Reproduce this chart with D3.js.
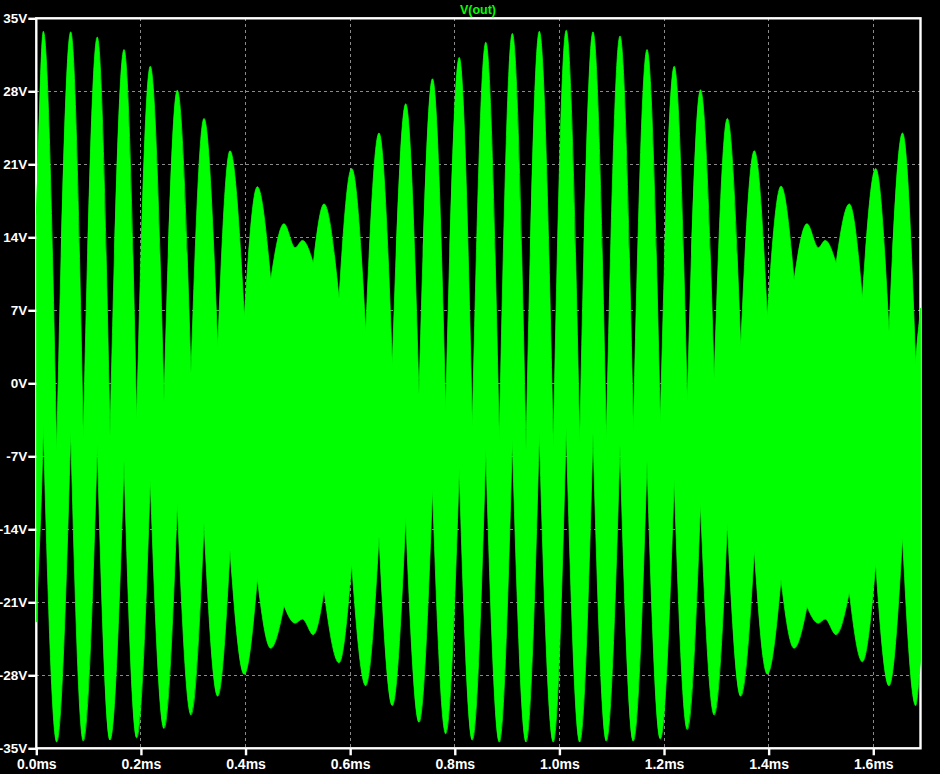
<!DOCTYPE html>
<html>
<head>
<meta charset="utf-8">
<script src="https://cdn.jsdelivr.net/npm/d3@7"></script>
<style>
  html, body { margin: 0; padding: 0; background: #000; }
  svg { display: block; }
</style>
</head>
<body>
<svg id="chart" width="940" height="774"></svg>
<script>
// ---- data ----
const title = "V(out)";
// time (ms) of each envelope turning point (alternating lobe crest / notch)
const times = [0, 0.0134, 0.0390, 0.0658, 0.0898, 0.1166, 0.1409, 0.1677, 0.1919, 0.2179,
  0.2441, 0.2695, 0.2957, 0.3206, 0.3468, 0.3703, 0.3976, 0.4225, 0.4481, 0.4735,
  0.4946, 0.5089, 0.5295, 0.5500, 0.5787, 0.6029, 0.6297, 0.6551, 0.6806, 0.7062,
  0.7316, 0.7574, 0.7826, 0.8085, 0.8335, 0.8593, 0.8851, 0.9100, 0.9362, 0.9616,
  0.9883, 1.0130, 1.0388, 1.0642, 1.0897, 1.1158, 1.1413, 1.1675, 1.1929, 1.2195,
  1.2445, 1.2697, 1.2959, 1.3210, 1.3466, 1.3726, 1.3974, 1.4236, 1.4485, 1.4733,
  1.4949, 1.5081, 1.5288, 1.5542, 1.5791, 1.6047, 1.6301, 1.6559, 1.6811, 1.6903];
// upper edge of the trace (V)
const vHigh = [16.0, 33.75, -6.55, 33.7, -5.3, 33.2, -5.1, 32.0, -3.5, 30.4,
  -1.75, 28.1, 0.96, 25.4, 3.45, 22.3, 6.4, 18.85, 9.9, 15.3,
  13.0, 13.7, 11.5, 17.2, 8.15, 20.6, 4.95, 24.0, 1.75, 26.8,
  -1.1, 29.2, -2.6, 31.25, -4.2, 32.7, -5.5, 33.55, -6.4, 33.75,
  -6.2, 33.85, -5.75, 33.7, -5.3, 33.3, -4.6, 32.0, -3.8, 30.4,
  -1.75, 28.15, 0.4, 25.4, 3.45, 22.3, 6.4, 18.9, 9.9, 15.3,
  13.0, 13.7, 11.5, 17.2, 8.15, 20.6, 4.95, 24.0, 1.75, 7.2];
// lower edge of the trace (V)
const vLow = [-22.9, -4.0, -34.4, -4.6, -34.3, -5.9, -34.2, -7.4, -34.0, -9.2,
  -33.1, -11.5, -31.8, -13.4, -30.0, -16.0, -27.9, -18.7, -25.4, -21.3,
  -23.0, -22.6, -24.1, -19.9, -26.8, -17.3, -29.0, -14.7, -30.9, -12.8,
  -32.5, -10.1, -33.6, -8.15, -34.2, -6.3, -34.4, -5.4, -34.4, -4.7,
  -34.4, -4.2, -34.4, -4.8, -34.3, -5.9, -34.3, -7.4, -34.1, -9.2,
  -33.2, -11.5, -31.8, -13.4, -30.0, -16.0, -27.9, -18.8, -25.4, -21.4,
  -23.0, -22.6, -24.1, -20.0, -26.7, -17.3, -29.0, -14.7, -30.9, -26.7];
const yTicks = [-35, -28, -21, -14, -7, 0, 7, 14, 21, 28, 35];
const xTicks = [0, 0.2, 0.4, 0.6, 0.8, 1.0, 1.2, 1.4, 1.6];
const xMax = 1.6903;

// ---- layout ----
const svg = d3.select("#chart");
const x = d3.scaleLinear().domain([0, xMax]).range([36.3, 920.5]);
const y = d3.scaleLinear().domain([-35, 35]).range([748.3, 18.3]);
const FONT = "'Liberation Sans', Arial, sans-serif";

svg.append("rect").attr("width", 940).attr("height", 774).attr("fill", "#000");

// grid
const grid = svg.append("g").attr("stroke", "#8a8a8a").attr("stroke-width", 1)
  .attr("stroke-dasharray", "3,3").attr("shape-rendering", "crispEdges");
grid.selectAll("line.h").data(yTicks.filter(v => v > -35 && v < 35)).join("line")
  .attr("class", "h")
  .attr("x1", x(0)).attr("x2", x(xMax))
  .attr("y1", d => y(d)).attr("y2", d => y(d));
grid.selectAll("line.v").data(xTicks.filter(v => v > 0)).join("line")
  .attr("class", "v")
  .attr("y1", y(35)).attr("y2", y(-35))
  .attr("x1", d => x(d)).attr("x2", d => x(d));

// frame
svg.append("rect")
  .attr("x", x(0)).attr("y", y(35))
  .attr("width", x(xMax) - x(0)).attr("height", y(-35) - y(35))
  .attr("fill", "none").attr("stroke", "#fff").attr("stroke-width", 2.4);

// custom curve: rounded crests on the outer side, sharp notches on the inner side
function ArchCurve(context) { this._context = context; }
ArchCurve.prototype = {
  areaStart() { this._line = 0; },
  areaEnd() { this._line = NaN; },
  lineStart() { this._pts = []; },
  point(px, py) { this._pts.push([+px, +py]); },
  lineEnd() {
    const p = this._pts, n = p.length, c = this._context;
    if (!n) return;
    const outerUp = this._line !== 1;
    if (this._line === 1) c.lineTo(p[0][0], p[0][1]); else c.moveTo(p[0][0], p[0][1]);
    const kind = p.map((q, i) => {
      if (i === 0 || i === n - 1) return "end";
      const a = p[i - 1][1], b = q[1], d = p[i + 1][1];
      const outer = outerUp ? (b < a && b < d) : (b > a && b > d);
      const inner = outerUp ? (b > a && b > d) : (b < a && b < d);
      if (outer) return "round";
      if (inner) {
        const depth = Math.min(Math.abs(b - a), Math.abs(b - d));
        return depth > 15 ? "sharp" : "round";
      }
      return "mono";
    });
    for (let i = 0; i < n - 1; i++) {
      const [x0, y0] = p[i], [x1, y1] = p[i + 1];
      const dx = x1 - x0, dy = y1 - y0, lin = dy / dx;
      const tan = (k, j) => k === "round" ? 0
        : k === "sharp" ? Math.PI / 2 * lin
        : k === "mono" ? (p[j + 1][1] - p[j - 1][1]) / (p[j + 1][0] - p[j - 1][0])
        : lin;
      const s0 = tan(kind[i], i), s1 = tan(kind[i + 1], i + 1);
      c.bezierCurveTo(x0 + dx / 3, y0 + s0 * dx / 3, x1 - dx / 3, y1 - s1 * dx / 3, x1, y1);
    }
    if (this._line === 1) c.closePath();
    this._line = 1 - this._line;
  }
};
const archCurve = ctx => new ArchCurve(ctx);

// trace
const pts = times.map((t, i) => ({ t, hi: vHigh[i], lo: vLow[i] }));
svg.append("clipPath").attr("id", "plotclip").append("rect")
  .attr("x", x(0) - 1).attr("y", y(35)).attr("width", x(xMax) - x(0) + 2).attr("height", y(-35) - y(35));
const area = d3.area()
  .x(d => x(d.t))
  .y1(d => y(d.hi))
  .y0(d => y(d.lo))
  .curve(archCurve);
svg.append("path")
  .datum(pts)
  .attr("clip-path", "url(#plotclip)")
  .attr("d", area)
  .attr("fill", "#00ff00")
  .attr("stroke", "#00ff00")
  .attr("stroke-width", 0.8);

// axes
const yAxis = d3.axisLeft(y).tickValues(yTicks).tickSize(8).tickPadding(1)
  .tickFormat(d => d + "V");
const gy = svg.append("g").attr("transform", `translate(${x(0)},0)`).call(yAxis);
gy.select(".domain").remove();
gy.selectAll(".tick line").attr("stroke", "#fff").attr("stroke-width", 2.4);
gy.selectAll(".tick text").attr("fill", "#fff")
  .style("font-family", FONT).style("font-size", "13.5px").style("font-weight", "bold");

const xAxis = d3.axisBottom(x).tickValues(xTicks).tickSize(7).tickPadding(4)
  .tickFormat(d => d.toFixed(1) + "ms");
const gx = svg.append("g").attr("transform", `translate(0,${y(-35)})`).call(xAxis);
gx.select(".domain").remove();
gx.selectAll(".tick line").attr("stroke", "#fff").attr("stroke-width", 2.4);
gx.selectAll(".tick text").attr("fill", "#fff")
  .style("font-family", FONT).style("font-size", "14px").style("font-weight", "bold");

// title
svg.append("text")
  .attr("x", 478).attr("y", 13.5)
  .attr("text-anchor", "middle")
  .attr("fill", "#00ff00")
  .style("font-family", FONT).style("font-size", "12.5px").style("font-weight", "bold")
  .text(title);
</script>
</body>
</html>
